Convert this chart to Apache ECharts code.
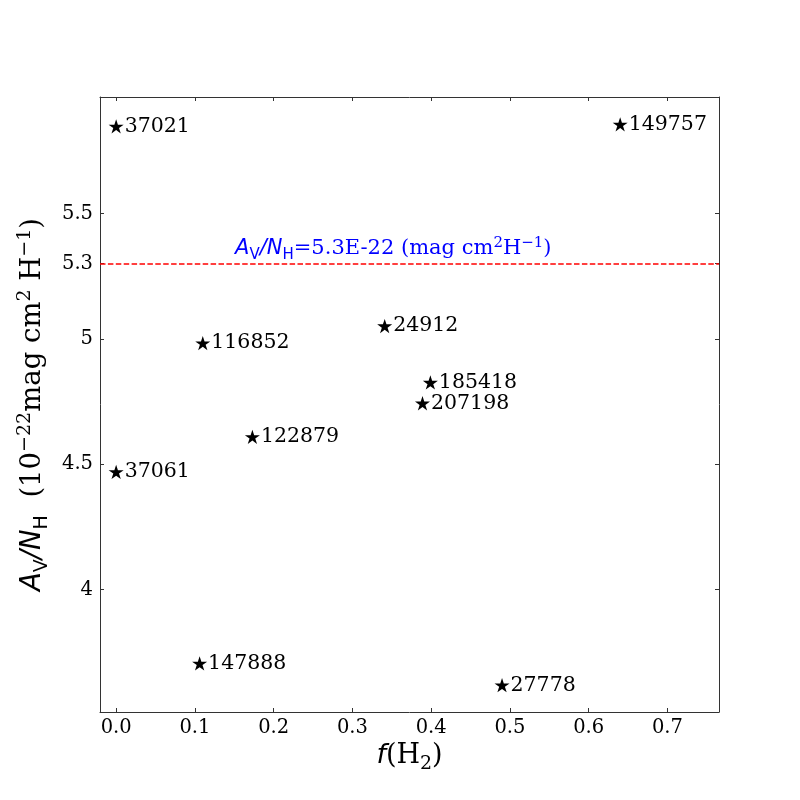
<!DOCTYPE html>
<html>
<head>
<meta charset="utf-8">
<script src="https://cdn.jsdelivr.net/npm/echarts@6.0.0/dist/echarts.min.js"></script>
<style>
  html, body { margin: 0; padding: 0; background: #fff; }
  #chart { width: 800px; height: 800px; }
</style>
</head>
<body>
<div id="chart"></div>
<script>
// star names (HD numbers), f(H2) and Av/NH (1e-22 mag cm^2 H^-1)
var hdNames = ['37021', '149757', '116852', '24912', '185418', '207198', '122879', '37061', '147888', '27778'];
var fH2 = [0.0, 0.640, 0.110, 0.341, 0.399, 0.389, 0.173, 0.0, 0.106, 0.490];
var avNh = [5.848, 5.856, 4.983, 5.051, 4.826, 4.743, 4.609, 4.469, 3.705, 3.618];

var xTicks = [0.0, 0.1, 0.2, 0.3, 0.4, 0.5, 0.6, 0.7];
var yTicks = [4, 4.5, 5, 5.3, 5.5];
var refRatio = 5.3;      // Av/NH = 5.3E-22
var refLabelX = 0.151;

var serif = 'DejaVu Serif';
var sans = 'DejaVu Sans';
var axisColor = '#333';
var starPath = 'path://M50 0 L61.23 34.55 L97.55 34.55 L68.17 55.9 L79.39 90.45 L50 69.1 L20.61 90.45 L31.83 55.9 L2.45 34.55 L38.77 34.55 Z';

var points = fH2.map(function (x, i) {
  return { value: [x, avNh[i]], name: hdNames[i] };
});

function mathRich(size, color) {
  var sub = Math.round(size * 0.7);
  return {
    it: { fontFamily: sans, fontStyle: 'italic', fontSize: size, color: color, lineHeight: size * 1.3 },
    n: { fontFamily: serif, fontSize: size, color: color, lineHeight: size * 1.3 },
    sub: { fontFamily: sans, fontSize: sub, color: color, lineHeight: sub, verticalAlign: 'bottom' },
    subs: { fontFamily: serif, fontSize: sub, color: color, lineHeight: sub, verticalAlign: 'bottom' },
    sup: { fontFamily: serif, fontSize: sub, color: color, lineHeight: sub, verticalAlign: 'top' }
  };
}

function baseX(show) {
  return {
    type: 'value', min: -0.0205, max: 0.7655, position: show ? 'bottom' : 'top',
    splitLine: { show: false },
    axisLine: { show: true, onZero: false, lineStyle: { color: axisColor, width: 1 } },
    axisTick: { show: true, inside: true, length: 4, customValues: xTicks, lineStyle: { color: axisColor } },
    axisLabel: {
      show: show, customValues: xTicks, margin: 6,
      fontFamily: serif, fontSize: 19.5, color: '#000',
      formatter: function (v) { return v.toFixed(1); }
    }
  };
}

function baseY(show) {
  return {
    type: 'value', min: 3.511, max: 5.965, position: show ? 'left' : 'right',
    splitLine: { show: false },
    axisLine: { show: true, onZero: false, lineStyle: { color: axisColor, width: 1 } },
    axisTick: { show: true, inside: true, length: 4, customValues: yTicks, lineStyle: { color: axisColor } },
    axisLabel: {
      show: show, customValues: yTicks, margin: 7,
      fontFamily: serif, fontSize: 19.5, color: '#000',
      formatter: function (v) { return String(v); }
    }
  };
}

var chart = echarts.init(document.getElementById('chart'));

var xMain = baseX(true);
xMain.name = '{it|f}{n|(H}{subs|2}{n|)}';
xMain.nameLocation = 'middle';
xMain.nameGap = 25;
xMain.nameTextStyle = { rich: mathRich(27, '#000') };

var yMain = baseY(true);
yMain.name = '{it|A}{sub|V}{it|/N}{sub|H}{n|  (10}{sup|\u221222}{n|mag cm}{sup|2}{n| H}{sup|\u22121}{n|)}';
yMain.nameLocation = 'middle';
yMain.nameGap = 40;
yMain.nameTextStyle = { rich: mathRich(27.5, '#000') };

var option = {
  animation: false,
  backgroundColor: '#fff',
  grid: { left: 100, right: 81, top: 97, bottom: 88, containLabel: false },
  xAxis: [xMain, baseX(false)],
  yAxis: [yMain, baseY(false)],
  series: [
    {
      type: 'scatter',
      data: points,
      symbol: starPath,
      symbolSize: 15,
      symbolKeepAspect: true,
      itemStyle: { color: '#000', opacity: 1 },
      label: {
        show: true, position: 'right', distance: 1,
        fontFamily: serif, fontSize: 20.5, color: '#000',
        formatter: function (p) { return p.name; }
      },
      markLine: {
        silent: true,
        symbol: ['none', 'none'],
        label: { show: false },
        lineStyle: { color: '#ff0000', width: 1.6, type: [5.5, 2.4], opacity: 1 },
        data: [{ yAxis: refRatio }]
      },
      z: 3
    },
    {
      type: 'scatter',
      data: [[refLabelX, refRatio]],
      symbolSize: 0,
      silent: true,
      itemStyle: { opacity: 1 },
      label: {
        show: true, position: 'top', align: 'left', distance: 1,
        formatter: '{it|A}{sub|V}{it|/N}{sub|H}{n|=5.3E-22 (mag cm}{sup|2}{n|H}{sup|\u22121}{n|)}',
        rich: mathRich(21, '#0000ff')
      },
      z: 4
    }
  ]
};

chart.setOption(option);
</script>
</body>
</html>
